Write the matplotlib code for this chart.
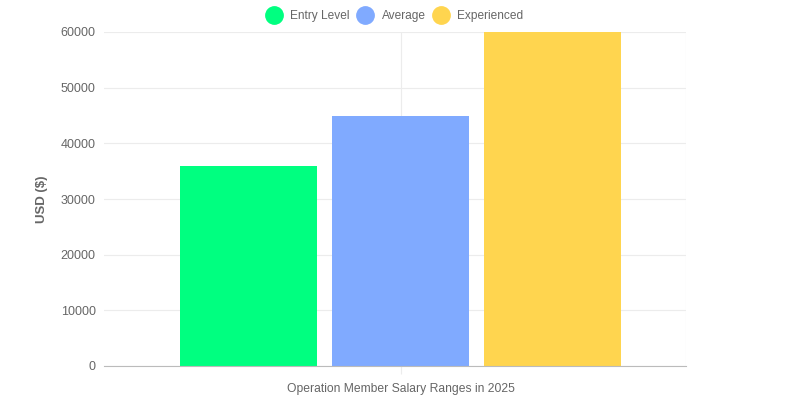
import matplotlib.pyplot as plt
from matplotlib.lines import Line2D

category = "Operation Member Salary Ranges in 2025"
series = ["Entry Level", "Average", "Experienced"]
values = [36000, 45000, 60000]
colors = ["#00ff80", "#80aaff", "#ffd54f"]
yticks = [0, 10000, 20000, 30000, 40000, 50000, 60000]

plt.rcParams['font.family'] = ['Liberation Sans', 'DejaVu Sans']

fig = plt.figure(figsize=(8, 4), dpi=100)
ax = fig.add_axes([104 / 800, 34 / 400, 582 / 800, 334 / 400])

slot = 0.8 / len(series)
for i, (name, v, c) in enumerate(zip(series, values, colors)):
    x = -0.4 + slot * (i + 0.5)
    ax.bar(x, v, width=slot * 0.9, color=c, label=name, zorder=2)

# category centre sits a little right of the axis middle
ax.set_xlim(-0.52, 0.5)
ax.set_ylim(0, 60000)
ax.set_yticks(yticks)
ax.set_yticklabels([str(t) for t in yticks])
ax.set_xticks([0])
ax.set_xticklabels([category])

ax.grid(True, color="#ececec", linewidth=0.8, zorder=0)
ax.axvline(0.5, color="#ececec", linewidth=0.8, zorder=0)
for s in ["top", "right", "left"]:
    ax.spines[s].set_visible(False)
ax.spines["bottom"].set_color("#bbbbbb")
ax.tick_params(axis="y", length=0, pad=6, labelsize=9, labelcolor="#666666")
ax.tick_params(axis="x", length=6, color="#ececec", pad=6, labelsize=8.7, labelcolor="#666666")

ax.set_ylabel("USD ($)", fontsize=9.5, fontweight="bold", color="#666666", labelpad=9)

handles = [Line2D([], [], marker="o", linestyle="", markersize=12.5, markerfacecolor=c,
                  markeredgecolor=c) for c in colors]
fig.legend(handles, series, loc="center", bbox_to_anchor=(0.494, 1 - 16 / 400), ncol=3,
           frameon=False, fontsize=8.6, labelcolor="#666666", handletextpad=0.75,
           columnspacing=0.7, handlelength=1.2)

fig.savefig("out.png")
